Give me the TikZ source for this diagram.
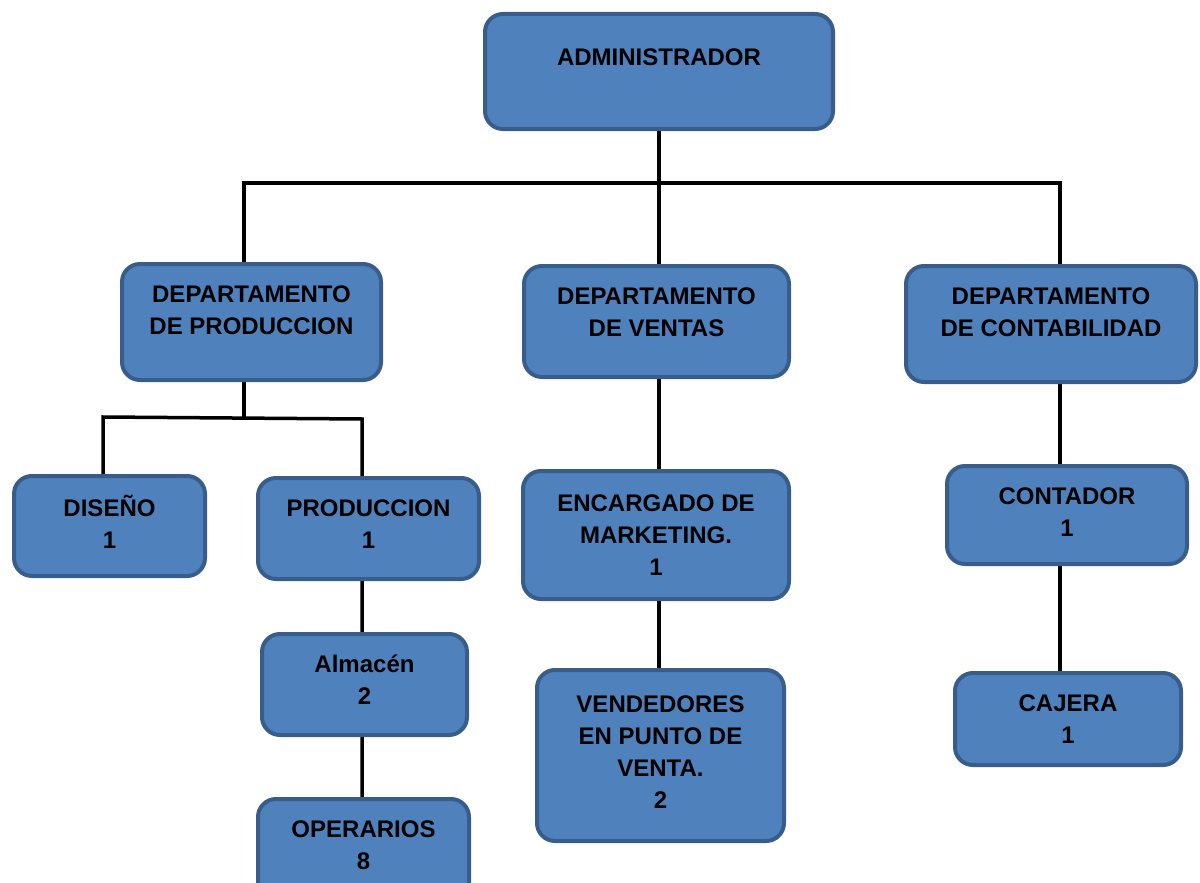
\documentclass[tikz,border=0pt]{standalone}
\usepackage{fontspec}
\setmainfont{Liberation Sans}
\usetikzlibrary{backgrounds}
\definecolor{boxfill}{HTML}{4F81BD}
\definecolor{boxline}{HTML}{385D8A}
\tikzset{
  box/.style={draw=boxline, fill=boxfill, line width=4pt, rounded corners=18pt, inner sep=0pt},
  lbl/.style={font=\bfseries\fontsize{24}{32}\selectfont, align=center, inner sep=0pt, text=black},
  conn/.style={line width=3.5pt, draw=black}
}
\begin{document}
\begin{tikzpicture}[x=1pt,y=-1pt]
\useasboundingbox (0,0) rectangle (1200,883);
\clip (0,0) rectangle (1200,883);
% boxes
\node[box, minimum width=348pt, minimum height=115pt] (adm)   at (659,71.5)   {};
\node[box, minimum width=259pt, minimum height=116pt] (dprod) at (251.5,322)  {};
\node[box, minimum width=265pt, minimum height=111pt] (dvent) at (656.5,321.5){};
\node[box, minimum width=290pt, minimum height=116pt] (dcont) at (1051,324)   {};
\node[box, minimum width=191pt, minimum height=100pt] (dis)   at (109.5,526)  {};
\node[box, minimum width=221pt, minimum height=101pt] (prod)  at (368.5,528.5){};
\node[box, minimum width=205pt, minimum height=101pt] (alm)   at (364.5,684.5){};
\node[box, minimum width=211pt, minimum height=104pt] (oper)  at (363.5,851)  {};
\node[box, minimum width=266pt, minimum height=128pt] (enc)   at (656,535)    {};
\node[box, minimum width=247pt, minimum height=171pt] (vend)  at (660.5,755.5){};
\node[box, minimum width=240pt, minimum height=98pt]  (conta) at (1067,515)   {};
\node[box, minimum width=226pt, minimum height=92pt]  (caj)   at (1068,719)   {};
% labels
\node[lbl] (admT)   at (659,57)    {ADMINISTRADOR};
\node[lbl] (dprodT) at (251.5,310) {DEPARTAMENTO\\DE PRODUCCION};
\node[lbl] (dventT) at (656.5,312) {DEPARTAMENTO\\DE VENTAS};
\node[lbl] (dcontT) at (1051,312)  {DEPARTAMENTO\\DE CONTABILIDAD};
\node[lbl] (disT)   at (109.5,522) {DISEÑO\\1};
\node[lbl] (prodT)  at (368.5,524) {PRODUCCION\\1};
\node[lbl] (almT)   at (364.5,680) {Almacén\\2};
\node[lbl] (operT)  at (363.5,845) {OPERARIOS\\8};
\node[lbl] (encT)   at (656,535)   {ENCARGADO DE\\MARKETING.\\1};
\node[lbl] (vendT)  at (660.5,752) {VENDEDORES\\EN PUNTO DE\\VENTA.\\2};
\node[lbl] (contaT) at (1067,512)  {CONTADOR\\1};
\node[lbl] (cajT)   at (1068,719)  {CAJERA\\1};
% connectors
\coordinate (bl) at (244,183);
\coordinate (br) at (1060,183);
\coordinate (pl) at (103,417);
\coordinate (pr) at (362,419);
\begin{scope}[on background layer]
  \draw[conn] (adm.center) -- (adm.center |- vend.center);
  \draw[conn] (dprod.center -| bl) -- (bl) -- (br) -- (caj.center -| br);
  \draw[conn] (dprod.center -| bl) -- (bl |- pl);
  \draw[conn] (dis.center -| pl) -- (pl) -- (pr) -- (oper.center -| pr);
\end{scope}
\end{tikzpicture}
\end{document}
